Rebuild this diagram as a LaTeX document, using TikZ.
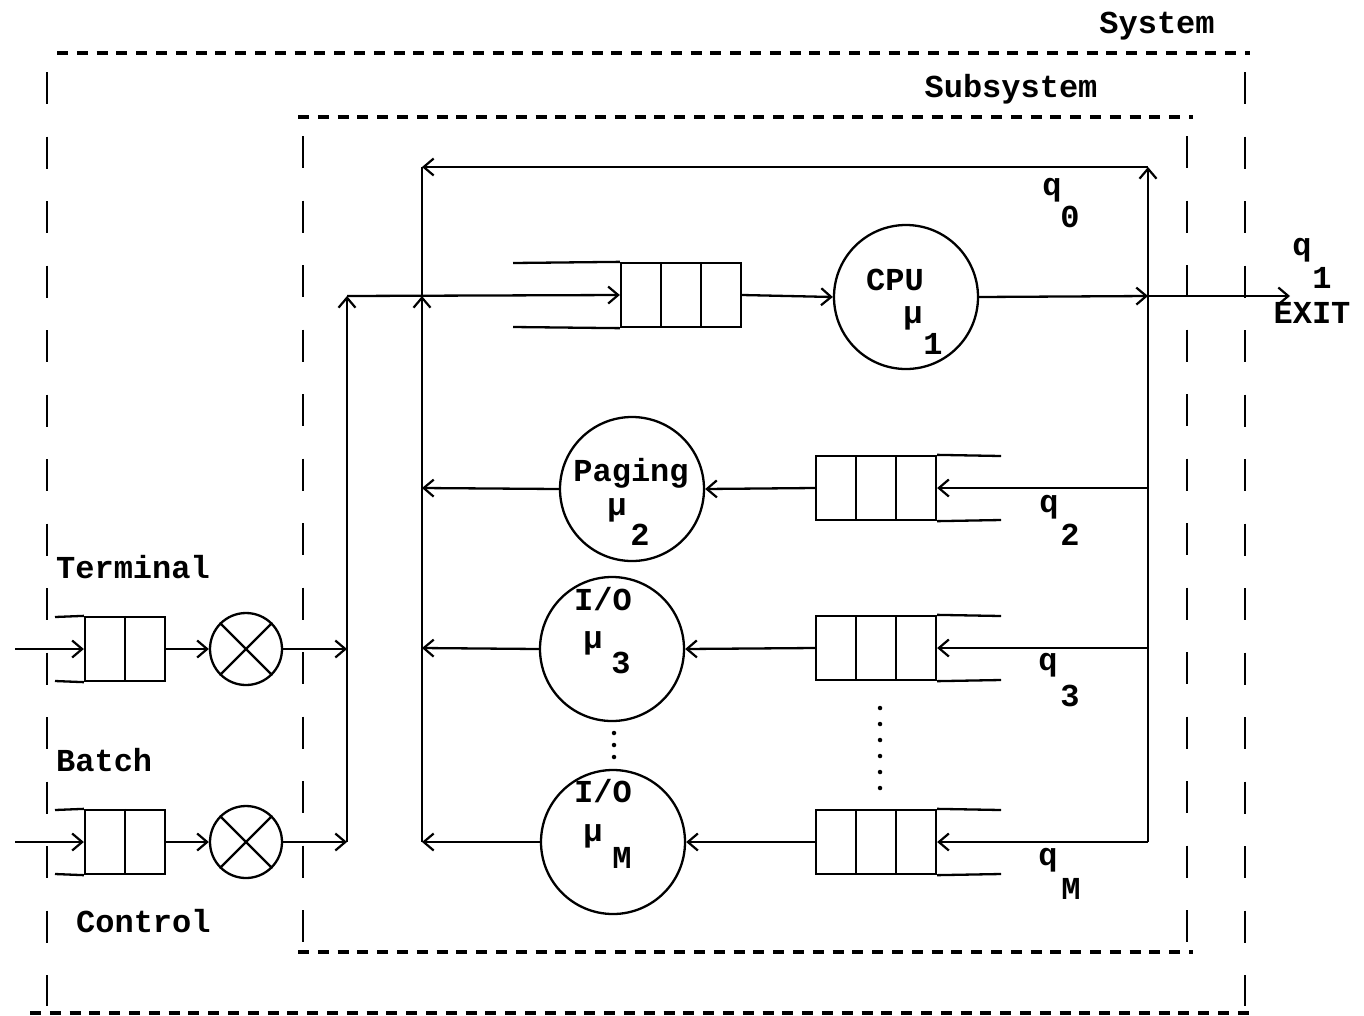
\documentclass[tikz,border=0pt]{standalone}
\usepackage{fontspec}
\setmainfont{Liberation Mono}
\usetikzlibrary{arrows.meta}
\tikzset{
  lbl/.style={font=\fontsize{32}{36}\selectfont\bfseries, inner sep=0pt},
  arr/.style={-{Straight Barb[length=10pt,width=17pt,line width=2.2pt]}},
  hdash/.style={line width=3.2pt, dash pattern=on 11pt off 8.8pt},
  vdash/.style={line width=2.8pt, dash pattern=on 32pt off 32.5pt},
  qbox/.style={draw, minimum width=120pt, minimum height=64pt, inner sep=0pt},
  qbox2/.style={draw, minimum width=80pt, minimum height=64pt, inner sep=0pt},
  srv/.style={draw, circle, minimum size=144pt, inner sep=0pt},
  mixer/.style={draw, circle, minimum size=72pt, inner sep=0pt},
  dotmark/.style={fill, circle, minimum size=4.5pt, inner sep=0pt},
}
\begin{document}
\begin{tikzpicture}[x=1pt,y=-1pt,line width=2.3pt]
\useasboundingbox (0,0) rectangle (1364,1015);

% ---------- dashed boundaries ----------
\draw[hdash] (57,53) -- (1250,53);
\draw[vdash] (47,72) -- (47,1006);
\draw[vdash] (1245,72) -- (1245,1006);
\draw[hdash] (30,1013) -- (1250,1013);
\draw[hdash] (298,117) -- (1193,117);
\draw[vdash] (303,136) -- (303,942);
\draw[vdash] (1187,136) -- (1187,942);
\draw[hdash] (298,952) -- (1193,952);

\node[lbl,anchor=base] (sys) at (1157,33) {System};
\node[lbl,anchor=base] (sub) at (1011,97) {Subsystem};

% ---------- terminal / batch ----------
\node[lbl,anchor=base west] (term) at (55,578) {Terminal};
\node[lbl,anchor=base west] (bat) at (55,771) {Batch};
\node[lbl,anchor=base west] (ctl) at (75,932) {Control};

\node[qbox2] (tq) at (125,649) {};
\draw (tq.north) -- (tq.south);
\draw (55,617) -- (tq.north west);
\draw (55,681) -- (tq.south west);
\node[mixer] (tmix) at (246,649) {};
\draw (tmix.north east) -- (tmix.south west) (tmix.north west) -- (tmix.south east);

\node[qbox2] (bq) at (125,842) {};
\draw (bq.north) -- (bq.south);
\draw (55,810) -- (bq.north west);
\draw (55,874) -- (bq.south west);
\node[mixer] (bmix) at (246,842) {};
\draw (bmix.north east) -- (bmix.south west) (bmix.north west) -- (bmix.south east);

\coordinate (tin) at (15,649);
\coordinate (bin) at (15,842);
\coordinate (jt) at (347,649);
\coordinate (jb) at (347,842);
\coordinate (jtop) at (347,296);
\draw[arr] (tin) -- (tq.west);
\draw[arr] (tq.east) -- (tmix.west);
\draw[arr] (tmix.east) -- (jt);
\draw[arr] (bin) -- (bq.west);
\draw[arr] (bq.east) -- (bmix.west);
\draw[arr] (bmix.east) -- (jb);
\draw[arr] (jb) -- (jtop);

% ---------- CPU ----------
\node[qbox] (cq) at (681,295) {};
\draw (661,263) -- (661,327) (701,263) -- (701,327);
\draw (513,263) -- (cq.north west);
\draw (513,327) -- (cq.south west);
\node[srv] (cpu) at (906,297) {};
\node[lbl,anchor=base] (cput) at (895,290) {CPU};
\node[lbl] (mu1) at (913,318) {μ};
\node[lbl] (mu1s) at (933,344) {1};
\draw[arr] (jtop) -- (cq.west);
\draw[arr] (cq.east) -- (cpu.west);

% ---------- feedback loop ----------
\coordinate (rx) at (1148,296);
\coordinate (ex) at (1290,296);
\coordinate (rt) at (1148,167);
\coordinate (rb) at (1148,842);
\coordinate (lt) at (422,167);
\coordinate (lm) at (422,296);
\coordinate (lb) at (422,842);
\draw[arr] (cpu.east) -- (rx);
\draw[arr] (rx) -- (ex);
\draw[arr] (rb) -- (rt);
\draw[arr] (rt) -- (lt);
\draw (lt) -- (lm);
\draw[arr] (lb) -- (lm);

\node[lbl] (q0) at (1052,190) {q};
\node[lbl] (q0s) at (1070,217) {0};
\node[lbl] (q1) at (1302,250) {q};
\node[lbl] (q1s) at (1322,278) {1};
\node[lbl,anchor=base] (exit) at (1312,323) {EXIT};

% ---------- Paging ----------
\node[qbox] (pq) at (876,488) {};
\draw (856,456) -- (856,520) (896,456) -- (896,520);
\draw (pq.north east) -- (1001,456);
\draw (pq.south east) -- (1001,520);
\node[srv] (pag) at (632,489) {};
\node[lbl,anchor=base] (pagt) at (631,481) {Paging};
\node[lbl] (mu2) at (617,510) {μ};
\node[lbl] (mu2s) at (640,535) {2};
\coordinate (r2) at (1148,488);
\coordinate (l2) at (422,488);
\draw[arr] (r2) -- (pq.east);
\draw[arr] (pq.west) -- (pag.east);
\draw[arr] (pag.west) -- (l2);
\node[lbl] (q2) at (1049,507) {q};
\node[lbl] (q2s) at (1070,535) {2};

% ---------- I/O 3 ----------
\node[qbox] (iq3) at (876,648) {};
\draw (856,616) -- (856,680) (896,616) -- (896,680);
\draw (iq3.north east) -- (1001,616);
\draw (iq3.south east) -- (1001,680);
\node[srv] (io3) at (612,649) {};
\node[lbl,anchor=base] (io3t) at (603,610) {I/O};
\node[lbl] (mu3) at (593,643) {μ};
\node[lbl] (mu3s) at (621,663) {3};
\coordinate (r3) at (1148,648);
\coordinate (l3) at (422,648);
\draw[arr] (r3) -- (iq3.east);
\draw[arr] (iq3.west) -- (io3.east);
\draw[arr] (io3.west) -- (l3);
\node[lbl] (q3) at (1048,665) {q};
\node[lbl] (q3s) at (1070,696) {3};

% ---------- dots ----------
\foreach \yy in {733,745,757} \node[dotmark] at (614,\yy) {};
\foreach \yy in {708,724,740,756,772,788} \node[dotmark] at (880,\yy) {};

% ---------- I/O M ----------
\node[qbox] (iqm) at (876,842) {};
\draw (856,810) -- (856,874) (896,810) -- (896,874);
\draw (iqm.north east) -- (1001,810);
\draw (iqm.south east) -- (1001,874);
\node[srv] (iom) at (613,842) {};
\node[lbl,anchor=base] (iomt) at (603,802) {I/O};
\node[lbl] (mum) at (593,836) {μ};
\node[lbl] (mums) at (622,858) {M};
\draw[arr] (rb) -- (iqm.east);
\draw[arr] (iqm.west) -- (iom.east);
\draw[arr] (iom.west) -- (lb);
\node[lbl] (qm) at (1048,860) {q};
\node[lbl] (qms) at (1071,889) {M};
\end{tikzpicture}
\end{document}
